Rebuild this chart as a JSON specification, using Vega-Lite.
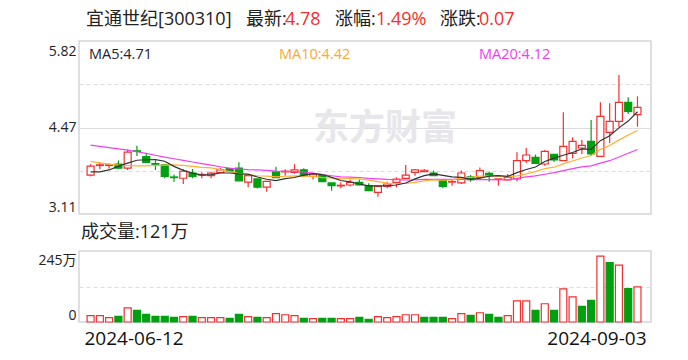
{
"$schema": "https://vega.github.io/schema/vega-lite/v6.json",
"autosize": {"type": "pad"},
"padding": {"left": 37, "top": 10, "right": 36, "bottom": 4},
"background": "white",
"bounds": "flush",
"spacing": 37,
"config": {
  "view": {"stroke": "#d4d4dc", "strokeWidth": 1.5},
  "font": "Open Sans, Noto Sans CJK SC",
  "axis": {"domain": false, "ticks": false, "title": null, "labelFont": "Open Sans, Noto Sans CJK SC", "labelColor": "#222", "gridColor": "#dcdce0", "gridWidth": 1}
},
"datasets": {"k": [
{"d":"2024-06-12","i":0,"o":3.72,"h":3.89,"l":3.70,"c":3.86,"v":21.7,"vu":1,"m5":3.77,"m10":3.935,"m20":4.19},
{"d":"2024-06-13","i":1,"o":3.87,"h":3.92,"l":3.81,"c":3.88,"v":21.7,"vu":1,"m5":3.77,"m10":3.91,"m20":4.17},
{"d":"2024-06-14","i":2,"o":3.87,"h":3.90,"l":3.82,"c":3.88,"v":14.9,"vu":1,"m5":3.80,"m10":3.89,"m20":4.15},
{"d":"2024-06-17","i":3,"o":3.89,"h":3.95,"l":3.815,"c":3.83,"v":19.4,"vu":0,"m5":3.86,"m10":3.875,"m20":4.13},
{"d":"2024-06-18","i":4,"o":3.83,"h":4.12,"l":3.80,"c":4.08,"v":49,"vu":1,"m5":3.906,"m10":3.87,"m20":4.11},
{"d":"2024-06-19","i":5,"o":4.10,"h":4.18,"l":4.02,"c":4.09,"v":40,"vu":0,"m5":3.952,"m10":3.865,"m20":4.085},
{"d":"2024-06-20","i":6,"o":4.01,"h":4.06,"l":3.92,"c":3.92,"v":26,"vu":0,"m5":3.96,"m10":3.865,"m20":4.06},
{"d":"2024-06-21","i":7,"o":3.90,"h":3.95,"l":3.80,"c":3.89,"v":19.4,"vu":0,"m5":3.962,"m10":3.87,"m20":4.03},
{"d":"2024-06-24","i":8,"o":3.88,"h":3.885,"l":3.67,"c":3.70,"v":19.4,"vu":0,"m5":3.936,"m10":3.875,"m20":4.0},
{"d":"2024-06-25","i":9,"o":3.69,"h":3.73,"l":3.615,"c":3.68,"v":16,"vu":0,"m5":3.856,"m10":3.881,"m20":3.975},
{"d":"2024-06-26","i":10,"o":3.67,"h":3.815,"l":3.58,"c":3.78,"v":18.3,"vu":1,"m5":3.794,"m10":3.873,"m20":3.95},
{"d":"2024-06-27","i":11,"o":3.75,"h":3.815,"l":3.67,"c":3.70,"v":19.4,"vu":0,"m5":3.75,"m10":3.855,"m20":3.925},
{"d":"2024-06-28","i":12,"o":3.72,"h":3.765,"l":3.67,"c":3.73,"v":14.9,"vu":1,"m5":3.718,"m10":3.84,"m20":3.9},
{"d":"2024-07-01","i":13,"o":3.71,"h":3.77,"l":3.67,"c":3.75,"v":14.9,"vu":1,"m5":3.728,"m10":3.832,"m20":3.875},
{"d":"2024-07-02","i":14,"o":3.76,"h":3.84,"l":3.75,"c":3.80,"v":14.9,"vu":1,"m5":3.752,"m10":3.804,"m20":3.85},
{"d":"2024-07-03","i":15,"o":3.82,"h":3.83,"l":3.77,"c":3.78,"v":12.6,"vu":0,"m5":3.752,"m10":3.773,"m20":3.83},
{"d":"2024-07-04","i":16,"o":3.83,"h":3.92,"l":3.63,"c":3.63,"v":26,"vu":0,"m5":3.738,"m10":3.744,"m20":3.815},
{"d":"2024-07-05","i":17,"o":3.61,"h":3.71,"l":3.53,"c":3.71,"v":18.3,"vu":1,"m5":3.734,"m10":3.726,"m20":3.805},
{"d":"2024-07-08","i":18,"o":3.66,"h":3.66,"l":3.51,"c":3.53,"v":16,"vu":0,"m5":3.69,"m10":3.709,"m20":3.8},
{"d":"2024-07-09","i":19,"o":3.53,"h":3.63,"l":3.46,"c":3.62,"v":14.9,"vu":1,"m5":3.654,"m10":3.703,"m20":3.792},
{"d":"2024-07-10","i":20,"o":3.77,"h":3.85,"l":3.68,"c":3.68,"v":28.6,"vu":1,"m5":3.634,"m10":3.693,"m20":3.783},
{"d":"2024-07-11","i":21,"o":3.77,"h":3.81,"l":3.71,"c":3.78,"v":25,"vu":1,"m5":3.664,"m10":3.701,"m20":3.778},
{"d":"2024-07-12","i":22,"o":3.76,"h":3.89,"l":3.74,"c":3.80,"v":21.7,"vu":1,"m5":3.682,"m10":3.708,"m20":3.774},
{"d":"2024-07-15","i":23,"o":3.80,"h":3.825,"l":3.685,"c":3.71,"v":12.6,"vu":0,"m5":3.718,"m10":3.704,"m20":3.768},
{"d":"2024-07-16","i":24,"o":3.70,"h":3.74,"l":3.65,"c":3.735,"v":11.4,"vu":1,"m5":3.741,"m10":3.698,"m20":3.751},
{"d":"2024-07-17","i":25,"o":3.71,"h":3.72,"l":3.617,"c":3.617,"v":12.6,"vu":0,"m5":3.728,"m10":3.681,"m20":3.727},
{"d":"2024-07-18","i":26,"o":3.596,"h":3.596,"l":3.475,"c":3.554,"v":12.6,"vu":0,"m5":3.683,"m10":3.674,"m20":3.709},
{"d":"2024-07-19","i":27,"o":3.55,"h":3.606,"l":3.512,"c":3.56,"v":11.4,"vu":1,"m5":3.635,"m10":3.659,"m20":3.692},
{"d":"2024-07-22","i":28,"o":3.564,"h":3.648,"l":3.54,"c":3.606,"v":11.4,"vu":1,"m5":3.614,"m10":3.666,"m20":3.688},
{"d":"2024-07-23","i":29,"o":3.606,"h":3.648,"l":3.56,"c":3.564,"v":16,"vu":0,"m5":3.58,"m10":3.661,"m20":3.682},
{"d":"2024-07-24","i":30,"o":3.554,"h":3.59,"l":3.475,"c":3.475,"v":9.5,"vu":0,"m5":3.552,"m10":3.64,"m20":3.667},
{"d":"2024-07-25","i":31,"o":3.45,"h":3.554,"l":3.382,"c":3.543,"v":18.3,"vu":1,"m5":3.55,"m10":3.616,"m20":3.659},
{"d":"2024-07-26","i":32,"o":3.543,"h":3.617,"l":3.512,"c":3.58,"v":14.9,"vu":1,"m5":3.554,"m10":3.594,"m20":3.651},
{"d":"2024-07-29","i":33,"o":3.606,"h":3.684,"l":3.527,"c":3.658,"v":18.3,"vu":1,"m5":3.564,"m10":3.589,"m20":3.647},
{"d":"2024-07-30","i":34,"o":3.669,"h":3.878,"l":3.658,"c":3.72,"v":25,"vu":1,"m5":3.595,"m10":3.588,"m20":3.643},
{"d":"2024-07-31","i":35,"o":3.763,"h":3.815,"l":3.71,"c":3.80,"v":25,"vu":1,"m5":3.66,"m10":3.606,"m20":3.644},
{"d":"2024-08-01","i":36,"o":3.775,"h":3.815,"l":3.77,"c":3.795,"v":16,"vu":0,"m5":3.711,"m10":3.63,"m20":3.652},
{"d":"2024-08-02","i":37,"o":3.752,"h":3.79,"l":3.71,"c":3.71,"v":16,"vu":0,"m5":3.737,"m10":3.645,"m20":3.652},
{"d":"2024-08-05","i":38,"o":3.632,"h":3.632,"l":3.512,"c":3.543,"v":16,"vu":0,"m5":3.714,"m10":3.639,"m20":3.653},
{"d":"2024-08-06","i":39,"o":3.61,"h":3.658,"l":3.554,"c":3.617,"v":11.4,"vu":1,"m5":3.693,"m10":3.644,"m20":3.652},
{"d":"2024-08-07","i":40,"o":3.596,"h":3.79,"l":3.58,"c":3.752,"v":28.6,"vu":1,"m5":3.683,"m10":3.672,"m20":3.656},
{"d":"2024-08-08","i":41,"o":3.69,"h":3.72,"l":3.617,"c":3.65,"v":22.9,"vu":0,"m5":3.654,"m10":3.683,"m20":3.649},
{"d":"2024-08-09","i":42,"o":3.684,"h":3.84,"l":3.658,"c":3.79,"v":32,"vu":1,"m5":3.67,"m10":3.704,"m20":3.649},
{"d":"2024-08-12","i":43,"o":3.747,"h":3.773,"l":3.617,"c":3.71,"v":26.3,"vu":0,"m5":3.704,"m10":3.709,"m20":3.649},
{"d":"2024-08-13","i":44,"o":3.655,"h":3.66,"l":3.554,"c":3.66,"v":16,"vu":0,"m5":3.712,"m10":3.703,"m20":3.645},
{"d":"2024-08-14","i":45,"o":3.643,"h":3.737,"l":3.64,"c":3.685,"v":21.7,"vu":1,"m5":3.699,"m10":3.691,"m20":3.649},
{"d":"2024-08-15","i":46,"o":3.658,"h":4.076,"l":3.622,"c":3.945,"v":73,"vu":1,"m5":3.758,"m10":3.706,"m20":3.668},
{"d":"2024-08-16","i":47,"o":3.945,"h":4.144,"l":3.909,"c":4.034,"v":73,"vu":1,"m5":3.807,"m10":3.739,"m20":3.692},
{"d":"2024-08-19","i":48,"o":3.998,"h":4.04,"l":3.904,"c":3.904,"v":40,"vu":0,"m5":3.846,"m10":3.775,"m20":3.707},
{"d":"2024-08-20","i":49,"o":3.893,"h":4.112,"l":3.867,"c":4.092,"v":62.9,"vu":1,"m5":3.932,"m10":3.822,"m20":3.733},
{"d":"2024-08-21","i":50,"o":4.045,"h":4.045,"l":3.93,"c":3.956,"v":40,"vu":0,"m5":3.986,"m10":3.843,"m20":3.757},
{"d":"2024-08-22","i":51,"o":3.945,"h":4.702,"l":3.945,"c":4.17,"v":114,"vu":1,"m5":4.031,"m10":3.895,"m20":3.789},
{"d":"2024-08-23","i":52,"o":4.06,"h":4.311,"l":3.982,"c":4.248,"v":86.9,"vu":1,"m5":4.074,"m10":3.94,"m20":3.822},
{"d":"2024-08-26","i":53,"o":4.144,"h":4.269,"l":4.05,"c":4.186,"v":53.7,"vu":0,"m5":4.13,"m10":3.988,"m20":3.848},
{"d":"2024-08-27","i":54,"o":4.248,"h":4.583,"l":4.024,"c":4.05,"v":74.3,"vu":0,"m5":4.122,"m10":4.027,"m20":3.865},
{"d":"2024-08-28","i":55,"o":4.013,"h":4.859,"l":4.013,"c":4.64,"v":227.5,"vu":1,"m5":4.259,"m10":4.123,"m20":3.907},
{"d":"2024-08-29","i":56,"o":4.389,"h":4.844,"l":4.222,"c":4.562,"v":204.6,"vu":0,"m5":4.337,"m10":4.184,"m20":3.945},
{"d":"2024-08-30","i":57,"o":4.562,"h":5.287,"l":4.468,"c":4.859,"v":196.6,"vu":1,"m5":4.459,"m10":4.267,"m20":4.003},
{"d":"2024-09-02","i":58,"o":4.859,"h":4.937,"l":4.676,"c":4.718,"v":115.4,"vu":0,"m5":4.566,"m10":4.348,"m20":4.061},
{"d":"2024-09-03","i":59,"o":4.666,"h":4.953,"l":4.478,"c":4.781,"v":121,"vu":1,"m5":4.712,"m10":4.417,"m20":4.12}
]},
"vconcat": [
{
  "width": 572, "height": 173,
  "data": {"name": "k"},
  "layer": [
    {"data": {"values": [{"t": "东方财富"}]}, "mark": {"type": "text", "x": 306, "y": 88, "align": "center", "baseline": "middle", "fontSize": 36, "fontWeight": "bold", "font": "Noto Sans CJK SC", "color": "#e6e6eb"}, "encoding": {"text": {"field": "t"}}},
    {"mark": {"type": "rule", "strokeWidth": 1.2},
     "encoding": {
       "x": {"field": "i", "type": "quantitative", "scale": {"domain": [-0.71, 59.92], "nice": false, "zero": false}, "axis": null},
       "y": {"field": "l", "type": "quantitative", "scale": {"domain": [3.11, 5.82], "nice": false, "zero": false},
             "axis": {"values": [3.11, 3.7875, 4.465, 5.1425, 5.82],
                      "labelExpr": "abs(datum.value-4.465)<0.001 ? '4.47' : (abs(datum.value-3.7875)<0.001 || abs(datum.value-5.1425)<0.001) ? '' : format(datum.value, '.2f')",
                      "labelFontSize": 14, "labelPadding": 3, "labelFlush": true,
                      "labelOffset": {"condition": {"test": "datum.value > 5.8", "value": 3}, "value": 0},
                      "gridDash": {"condition": {"test": "abs(datum.value-4.465)<0.001", "value": []}, "value": [4, 3]},
                      "gridOpacity": {"condition": {"test": "datum.value < 3.2 || datum.value > 5.8", "value": 0}, "value": 1}}},
       "y2": {"field": "h"},
       "color": {"condition": {"test": "datum.c >= datum.o", "value": "#f52e2e"}, "value": "#00a010"}
     }},
    {"mark": {"type": "bar", "size": 7, "strokeWidth": 1.2},
     "encoding": {
       "x": {"field": "i", "type": "quantitative"},
       "y": {"field": "o", "type": "quantitative"},
       "y2": {"field": "c"},
       "fill": {"condition": {"test": "datum.c >= datum.o", "value": "white"}, "value": "#00a010"},
       "stroke": {"condition": {"test": "datum.c >= datum.o", "value": "#f52e2e"}, "value": "#00a010"}
     }},
    {"mark": {"type": "line", "color": "#f040f0", "strokeWidth": 1.2}, "encoding": {"x": {"field": "i", "type": "quantitative"}, "y": {"field": "m20", "type": "quantitative"}}},
    {"mark": {"type": "line", "color": "#ffb030", "strokeWidth": 1.2}, "encoding": {"x": {"field": "i", "type": "quantitative"}, "y": {"field": "m10", "type": "quantitative"}}},
    {"mark": {"type": "line", "color": "#333333", "strokeWidth": 1.2}, "encoding": {"x": {"field": "i", "type": "quantitative"}, "y": {"field": "m5", "type": "quantitative"}}},
    {"data": {"values": [{"t": "MA5:4.71"}]}, "mark": {"type": "text", "x": 10, "y": 14, "align": "left", "baseline": "middle", "fontSize": 14.5, "color": "#1c2430"}, "encoding": {"text": {"field": "t"}}},
    {"data": {"values": [{"t": "MA10:4.42"}]}, "mark": {"type": "text", "x": 200, "y": 14, "align": "left", "baseline": "middle", "fontSize": 14.5, "color": "#f7a935"}, "encoding": {"text": {"field": "t"}}},
    {"data": {"values": [{"t": "MA20:4.12"}]}, "mark": {"type": "text", "x": 400, "y": 14, "align": "left", "baseline": "middle", "fontSize": 14.5, "color": "#f03cf0"}, "encoding": {"text": {"field": "t"}}},
    {"data": {"values": [{"t": "宜通世纪[300310]"}]}, "mark": {"type": "text", "x": 7, "y": -21, "align": "left", "baseline": "middle", "fontSize": 18, "color": "#222"}, "encoding": {"text": {"field": "t"}}},
    {"data": {"values": [{"t": "最新:"}]}, "mark": {"type": "text", "x": 167, "y": -21, "align": "left", "baseline": "middle", "fontSize": 18, "color": "#222"}, "encoding": {"text": {"field": "t"}}},
    {"data": {"values": [{"t": "4.78"}]}, "mark": {"type": "text", "x": 206, "y": -21, "align": "left", "baseline": "middle", "fontSize": 18, "color": "#f52e2e"}, "encoding": {"text": {"field": "t"}}},
    {"data": {"values": [{"t": "涨幅:"}]}, "mark": {"type": "text", "x": 256, "y": -21, "align": "left", "baseline": "middle", "fontSize": 18, "color": "#222"}, "encoding": {"text": {"field": "t"}}},
    {"data": {"values": [{"t": "1.49%"}]}, "mark": {"type": "text", "x": 297, "y": -21, "align": "left", "baseline": "middle", "fontSize": 18, "color": "#f52e2e"}, "encoding": {"text": {"field": "t"}}},
    {"data": {"values": [{"t": "涨跌:"}]}, "mark": {"type": "text", "x": 361, "y": -21, "align": "left", "baseline": "middle", "fontSize": 18, "color": "#222"}, "encoding": {"text": {"field": "t"}}},
    {"data": {"values": [{"t": "0.07"}]}, "mark": {"type": "text", "x": 400, "y": -21, "align": "left", "baseline": "middle", "fontSize": 18, "color": "#f52e2e"}, "encoding": {"text": {"field": "t"}}}
  ]
},
{
  "width": 572, "height": 71,
  "data": {"name": "k"},
  "title": {"text": "成交量:121万", "anchor": "start", "frame": "group", "fontSize": 18, "fontWeight": "normal", "color": "#222", "offset": 9, "dx": 2},
  "mark": {"type": "bar", "size": 7, "strokeWidth": 1.2},
  "encoding": {
    "x": {"field": "i", "type": "quantitative", "scale": {"domain": [-0.71, 59.92], "nice": false, "zero": false},
          "axis": {"values": [-0.71, 59.92], "labelExpr": "datum.value < 30 ? '2024-06-12' : '2024-09-03'", "labelFlush": false,
                   "labelAlign": {"condition": {"test": "datum.value < 30", "value": "left"}, "value": "right"},
                   "labelFontSize": 19, "labelPadding": 7, "labelColor": "#111", "grid": false}},
    "y": {"field": "v", "type": "quantitative", "scale": {"domain": [0, 245], "nice": false},
          "axis": {"values": [0, 122.5, 245], "labelExpr": "datum.value == 0 ? '0' : datum.value == 245 ? '245万' : ''",
                   "labelFontSize": 14, "labelPadding": 3, "labelFlush": true,
                   "labelOffset": {"condition": {"test": "datum.value > 240", "value": 2}, "value": 0},
                   "gridDash": [4, 3],
                   "gridOpacity": {"condition": {"test": "datum.value == 122.5", "value": 1}, "value": 0}}},
    "fill": {"condition": {"test": "datum.vu == 1", "value": "white"}, "value": "#00a010"},
    "stroke": {"condition": {"test": "datum.vu == 1", "value": "#f52e2e"}, "value": "#00a010"}
  }
}
]
}
